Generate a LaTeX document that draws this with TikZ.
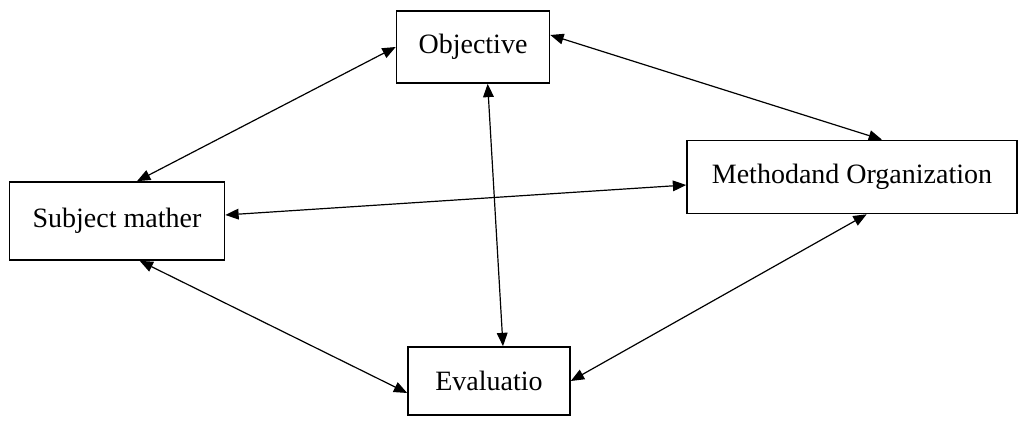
\documentclass[tikz,border=0pt]{standalone}
\usepackage{fontspec}
\setmainfont{Liberation Serif}
\usetikzlibrary{arrows.meta}
\begin{document}
\begin{tikzpicture}[x=0.75pt,y=-0.75pt,
  box/.style={draw, line width=1.2pt, fill=white, inner sep=0pt, font=\fontsize{21}{25}\selectfont},
  link/.style={line width=0.9pt, {Triangle[length=10pt,width=8pt]}-{Triangle[length=10pt,width=8pt]}}]
\useasboundingbox (0,0) rectangle (1025,423);
\node[box, minimum width=153*0.75pt, minimum height=72*0.75pt] (obj) at (473,47) {Objective};
\node[box, minimum width=215*0.75pt, minimum height=78*0.75pt] (sub) at (117,221) {Subject mather};
\node[box, minimum width=330*0.75pt, minimum height=73*0.75pt] (meth) at (852,177) {Methodand Organization};
\node[box, minimum width=162*0.75pt, minimum height=68*0.75pt] (eval) at (489,381) {Evaluatio};
\draw[link] (obj.west) -- ([xshift=15pt]sub.north);
\draw[link] ([yshift=9pt]obj.east) -- ([xshift=22.5pt]meth.north);
\draw[link] ([xshift=11pt]obj.south) -- ([xshift=10.5pt]eval.north);
\draw[link] ([yshift=4.5pt]sub.east) -- ([yshift=-6pt]meth.west);
\draw[link] ([xshift=17pt]sub.south) -- ([yshift=-9pt]eval.west);
\draw[link] (eval.east) -- ([xshift=11pt]meth.south);
\end{tikzpicture}
\end{document}
